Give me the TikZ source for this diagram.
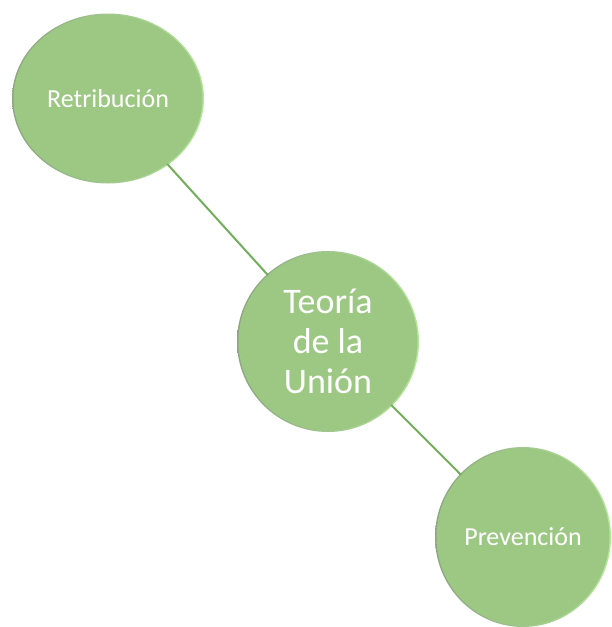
\documentclass[tikz,border=0pt]{standalone}
\usepackage{fontspec}
\setmainfont{Carlito}
\usetikzlibrary{shapes.geometric,backgrounds}
\definecolor{bubblefill}{HTML}{9DC884}
\definecolor{rimdark}{HTML}{8FA584}
\definecolor{rimlight}{HTML}{B2E896}
\definecolor{linkcol}{HTML}{72AF5D}
\begin{document}
\begin{tikzpicture}[x=1pt,y=-1pt,
  bubble/.style={ellipse, fill=bubblefill, draw=none,
    inner sep=0pt, text=white, align=center},
  rim/.style={left color=rimdark, right color=rimlight, draw=none},
  linkline/.style={draw=linkcol, line width=2pt}]
\useasboundingbox (0,0) rectangle (611,627);
\node[bubble, minimum width=189pt, minimum height=167pt,
  font=\fontsize{26}{31}\selectfont] (ret) at (108,98.5) {Retribución};
\node[bubble, minimum width=179pt, minimum height=178pt,
  font=\fontsize{36}{40}\selectfont] (teo) at (328,341.5) {Teoría\\de la\\Unión};
\node[bubble, minimum width=173pt, minimum height=177pt,
  font=\fontsize{26}{31}\selectfont] (pre) at (523,537) {Prevención};
\begin{pgfonlayer}{background}
  \shade[rim] (ret.center) ellipse [x radius=96, y radius=85];
  \shade[rim] (teo.center) ellipse [x radius=91, y radius=90.5];
  \shade[rim] (pre.center) ellipse [x radius=88, y radius=90];
\end{pgfonlayer}
\draw[linkline] (ret) -- (teo);
\draw[linkline] (teo) -- (pre);
\end{tikzpicture}
\end{document}
